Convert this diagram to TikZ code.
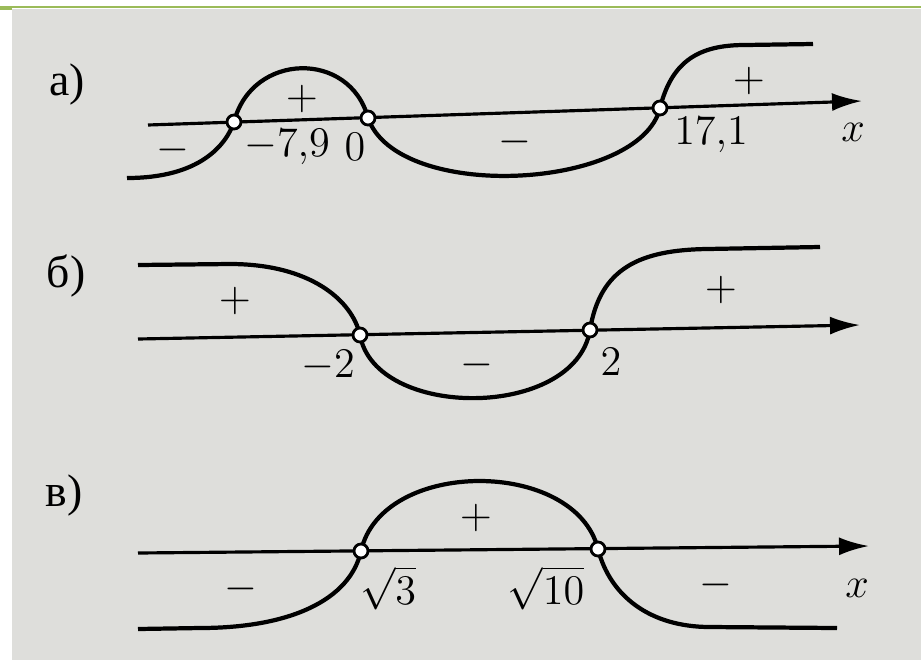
\documentclass[tikz,border=0pt]{standalone}
\usepackage{amsmath, amssymb}
\usepackage{fontspec}
\newfontfamily\cyrfont{Liberation Serif}
\usepackage{xcolor}
\usepackage{tikz}
\usetikzlibrary{arrows.meta}

\definecolor{paper}{RGB}{222,222,219}
\definecolor{slidegreen}{RGB}{155,187,89}

\begin{document}
\begin{tikzpicture}[x=0.01cm, y=-0.01cm, >={Latex[length=3mm, width=1.8mm]},
    zero/.style={circle, draw, fill=white, line width=0.8pt, inner sep=0pt, minimum size=1.4mm},
    curve/.style={line width=1.2pt},
    axis/.style={line width=0.9pt, ->},
    lbl/.style={inner sep=1pt, font=\large},
    part/.style={inner sep=1pt, font=\fontsize{13}{15}\selectfont\cyrfont}]
    \useasboundingbox (0,0) rectangle (921,660);
    % Nền
    \fill[paper] (12,9) rectangle (921,660);
    \fill[slidegreen] (0,6) rectangle (921,8);
    \fill[slidegreen] (0,6) rectangle (12,10);

    % a) các điểm
    \coordinate (aL) at (148,125);
    \coordinate (aR) at (862,101);
    \coordinate (a0) at (127,178);
    \coordinate (a1) at (234,122);
    \coordinate (a2) at (368,118);
    \coordinate (a3) at (660,108);
    \coordinate (a4) at (813,44);
    \draw[axis] (aL) -- (aR);
    \draw[curve] (a0) .. controls (200,178) and (226,145) .. (a1)
        .. controls (252,52) and (350,50) .. (a2)
        .. controls (398,203) and (640,190) .. (a3)
        .. controls (672,60) and (700,45) .. (745,45) -- (a4);
    \foreach \p in {1,2,3} {
        \node[zero] (za\p) at (a\p) {};
    }
    \node[part] (pa) at (67,84) {а)};
    \node[lbl] (sa1) at (173,150) {$-$};
    \node[lbl] (sa2) at (302,99) {$+$};
    \node[lbl] (sa3) at (515,142) {$-$};
    \node[lbl] (sa4) at (749,81) {$+$};
    \node[lbl] (na1) at (287,147) {$-7{,}9$};
    \node[lbl] (na2) at (355,147) {$0$};
    \node[lbl] (na3) at (711,135) {$17{,}1$};
    \node[lbl] (xa) at (853,132) {$x$};

    % б) các điểm
    \coordinate (bL) at (138,339);
    \coordinate (bR) at (860,325);
    \coordinate (b0) at (138,265);
    \coordinate (b1) at (360,335);
    \coordinate (b2) at (590,330);
    \coordinate (b3) at (820,247);
    \draw[axis] (bL) -- (bR);
    \draw[curve] (b0) -- (230,264) .. controls (310,264) and (352,300) .. (b1)
        .. controls (375,420) and (575,420) .. (b2)
        .. controls (600,268) and (640,250) .. (707,249) -- (b3);
    \foreach \p in {1,2} {
        \node[zero] (zb\p) at (b\p) {};
    }
    \node[part] (pb) at (66,276) {б)};
    \node[lbl] (sb1) at (235,301) {$+$};
    \node[lbl] (sb2) at (477,365) {$-$};
    \node[lbl] (sb3) at (721,290) {$+$};
    \node[lbl] (nb1) at (328,366) {$-2$};
    \node[lbl] (nb2) at (611,362) {$2$};

    % в) các điểm
    \coordinate (cL) at (138,553);
    \coordinate (cR) at (869,546);
    \coordinate (c0) at (138,629);
    \coordinate (c1) at (361,551);
    \coordinate (c2) at (598,549);
    \coordinate (c3) at (837,628);
    \draw[axis] (cL) -- (cR);
    \draw[curve] (c0) -- (200,628) .. controls (290,628) and (350,600) .. (c1)
        .. controls (382,458) and (575,458) .. (c2)
        .. controls (610,596) and (650,627) .. (710,627) -- (c3);
    \foreach \p in {1,2} {
        \node[zero] (zc\p) at (c\p) {};
    }
    \node[part] (pc) at (64,495) {в)};
    \node[lbl] (sc1) at (241,589) {$-$};
    \node[lbl] (sc2) at (476,518) {$+$};
    \node[lbl] (sc3) at (716,585) {$-$};
    \node[lbl] (nc1) at (388,588) {$\sqrt{3}$};
    \node[lbl] (nc2) at (546,588) {$\sqrt{10}$};
    \node[lbl] (xc) at (857,588) {$x$};
\end{tikzpicture}
\end{document}
